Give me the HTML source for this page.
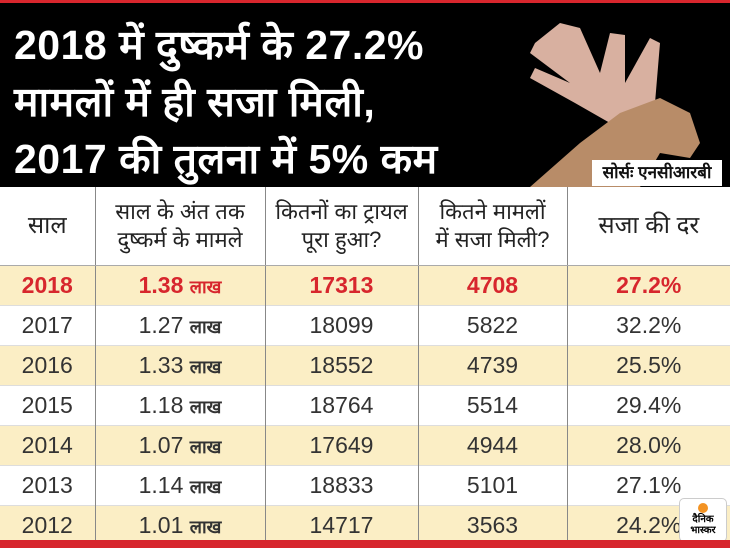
<!DOCTYPE html>
<html><head><meta charset="utf-8"><style>
body{margin:0;width:730px;height:548px;overflow:hidden;background:#fff;font-family:"Liberation Sans","Noto Sans CJK SC",sans-serif}
.top{position:absolute;left:0;top:0;width:730px;height:3px;background:#d7262d}
.hdr{position:absolute;left:0;top:3px;width:730px;height:184px;background:#000}
.title{position:absolute;left:14px;top:14px;color:#fff;font-size:41px;font-weight:bold;line-height:57px;letter-spacing:0.5px}
.src{position:absolute;left:592px;top:157px;width:130px;height:26px;background:#fff;font-size:17px;font-weight:bold;text-align:center;line-height:26px;color:#111}
table{position:absolute;left:0;top:187px;width:730px;border-collapse:collapse;font-size:23px;color:#333}
td{border-left:1px solid #888;text-align:center;height:39px;padding:0}
td:first-child{border-left:none}
tr.h td{height:78px;font-size:22px;line-height:28px;border-bottom:1px solid #aaa;color:#222}
tr.y td{background:#fbeec5}
tr.r td{color:#d7262d;font-weight:bold}
tr{border-bottom:1px solid #ddd}
.l{font-size:18px;font-weight:bold}
.bot{position:absolute;left:0;top:540px;width:730px;height:8px;background:#d7262d}
.logo{position:absolute;left:679px;top:498px;width:46px;height:42px;background:#fff;border:1px solid #ccc;border-radius:5px;font-size:10px;font-weight:bold;text-align:center;line-height:11px}
.logo i{display:block;width:10px;height:10px;border-radius:50%;background:#f39323;margin:4px auto 1px}
</style></head><body>
<div class="top"></div>
<div class="hdr">
<svg width="730" height="184" style="position:absolute;left:0;top:0">
<g fill="#d8b0a0">
<path d="M560 20 L580 25 L600 70 L610 30 L625 32 L625 80 L650 35 L660 40 L655 100 L640 130 L610 120 L575 100 L530 75 L535 65 L570 80 L530 50 L535 40 Z"/>
</g>
<g fill="#b88c68">
<path d="M530 184 L580 140 L620 110 L660 95 L690 110 L700 140 L690 155 L660 150 L640 184 Z"/>
</g>
</svg>
<div class="title">2018 में दुष्कर्म के 27.2%<br>मामलों में ही सजा मिली,<br>2017 की तुलना में 5% कम</div>
<div class="src">सोर्सः एनसीआरबी</div>
</div>
<table>
<colgroup><col style="width:95px"><col style="width:170px"><col style="width:153px"><col style="width:149px"><col></colgroup>
<tr class="h"><td style="font-size:24px">साल</td><td>साल के अंत तक<br>दुष्कर्म के मामले</td><td>कितनों का ट्रायल<br>पूरा हुआ?</td><td>कितने मामलों<br>में सजा मिली?</td><td style="font-size:24px">सजा की दर</td></tr>
<tr class="y r"><td>2018</td><td>1.38 <span class="l">लाख</span></td><td>17313</td><td>4708</td><td>27.2%</td></tr>
<tr><td>2017</td><td>1.27 <span class="l">लाख</span></td><td>18099</td><td>5822</td><td>32.2%</td></tr>
<tr class="y"><td>2016</td><td>1.33 <span class="l">लाख</span></td><td>18552</td><td>4739</td><td>25.5%</td></tr>
<tr><td>2015</td><td>1.18 <span class="l">लाख</span></td><td>18764</td><td>5514</td><td>29.4%</td></tr>
<tr class="y"><td>2014</td><td>1.07 <span class="l">लाख</span></td><td>17649</td><td>4944</td><td>28.0%</td></tr>
<tr><td>2013</td><td>1.14 <span class="l">लाख</span></td><td>18833</td><td>5101</td><td>27.1%</td></tr>
<tr class="y"><td>2012</td><td>1.01 <span class="l">लाख</span></td><td>14717</td><td>3563</td><td>24.2%</td></tr>
</table>
<div class="logo"><i></i>दैनिक<br>भास्कर</div>
<div class="bot"></div>
</body></html>
